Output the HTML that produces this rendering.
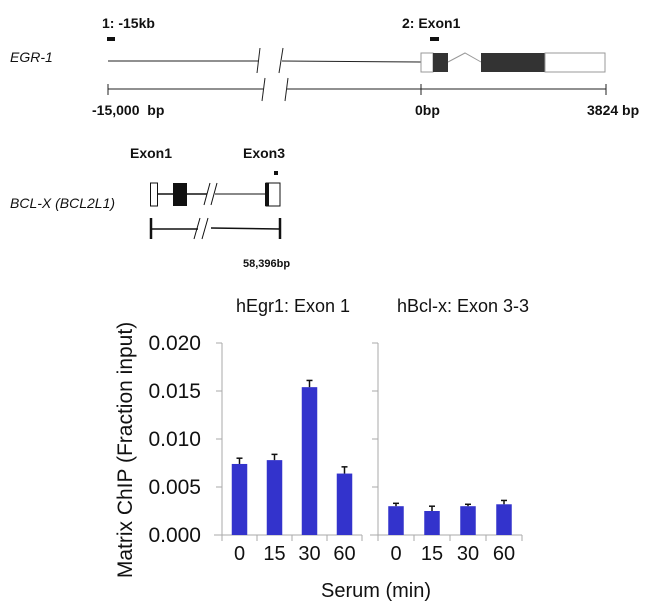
<!DOCTYPE html>
<html><head><meta charset="utf-8"><style>
html,body{margin:0;padding:0;background:#fff;}
svg{display:block;font-family:"Liberation Sans",sans-serif;}
</style></head><body>
<svg width="650" height="608" viewBox="0 0 650 608">
<g stroke="#222" fill="none">
  <text x="10" y="62" font-size="14" font-style="italic" fill="#111" stroke="none">EGR-1</text>
  <text x="102" y="28" font-size="14" font-weight="bold" fill="#111" stroke="none">1: -15kb</text>
  <rect x="107" y="37" width="8" height="4" fill="#111" stroke="none"/>
  <text x="402" y="28" font-size="14" font-weight="bold" fill="#111" stroke="none">2: Exon1</text>
  <rect x="430" y="37" width="9" height="4" fill="#111" stroke="none"/>
  <line x1="108" y1="61" x2="259" y2="61"/>
  <line x1="257" y1="73" x2="260" y2="48"/><line x1="279" y1="73" x2="283" y2="48"/>
  <line x1="282" y1="61" x2="421" y2="62"/>
  <rect x="421" y="53" width="12" height="19" fill="#fff" stroke="#999"/>
  <rect x="433" y="53" width="15" height="19" fill="#333" stroke="none"/>
  <polyline points="448,62 465,53 481,62" stroke="#999"/>
  <rect x="481" y="53" width="64" height="19" fill="#333" stroke="none"/>
  <rect x="545" y="53" width="60" height="19" fill="#fff" stroke="#999"/>
  <line x1="108" y1="89" x2="264" y2="89"/>
  <line x1="262" y1="101" x2="265" y2="78"/><line x1="285" y1="101" x2="288" y2="78"/>
  <line x1="287" y1="89" x2="606" y2="89"/>
  <line x1="108" y1="84" x2="108" y2="95"/><line x1="421" y1="84" x2="421" y2="95"/><line x1="606" y1="84" x2="606" y2="95"/>
  <text x="92" y="115" font-size="14" font-weight="bold" fill="#111" stroke="none" xml:space="preserve">-15,000  bp</text>
  <text x="415" y="115" font-size="14" font-weight="bold" fill="#111" stroke="none">0bp</text>
  <text x="587" y="115" font-size="14" font-weight="bold" fill="#111" stroke="none">3824 bp</text>
</g>
<g stroke="#111" fill="none">
  <text x="130" y="158" font-size="14" font-weight="bold" fill="#111" stroke="none">Exon1</text>
  <text x="243" y="158" font-size="14" font-weight="bold" fill="#111" stroke="none">Exon3</text>
  <rect x="274" y="171" width="4" height="4" fill="#111" stroke="none"/>
  <text x="10" y="208" font-size="14" font-style="italic" fill="#111" stroke="none">BCL-X (BCL2L1)</text>
  <line x1="157" y1="194" x2="207" y2="194" stroke-width="1.5"/>
  <line x1="204" y1="205" x2="210" y2="183"/><line x1="211" y1="205" x2="217" y2="183"/>
  <line x1="215" y1="194" x2="266" y2="194"/>
  <rect x="150.5" y="183" width="7" height="23" fill="#fff"/>
  <rect x="173" y="183" width="14" height="23" fill="#111" stroke="none"/>
  <rect x="266" y="183" width="14" height="23" fill="#fff"/>
  <rect x="265" y="183" width="4" height="23" fill="#111" stroke="none"/>
  <line x1="151" y1="229" x2="198" y2="229" stroke-width="1.5"/>
  <line x1="194" y1="239" x2="200" y2="218"/><line x1="202" y1="239" x2="208" y2="218"/>
  <line x1="211" y1="228" x2="280" y2="229" stroke-width="1.5"/>
  <line x1="151" y1="218" x2="151" y2="239" stroke-width="2.5"/><line x1="280" y1="218" x2="280" y2="239" stroke-width="2.5"/>
  <text x="243" y="267" font-size="11" font-weight="bold" fill="#111" stroke="none">58,396bp</text>
</g>
<g id="chart"></g>
</svg>
<script>
const categories = ["0","15","30","60"];
const egr1Values = [0.0074, 0.0078, 0.0154, 0.0064];
const egr1Errors = [0.0006, 0.0006, 0.0007, 0.0007];
const bclValues = [0.0030, 0.0025, 0.0030, 0.0032];
const bclErrors = [0.0003, 0.0005, 0.0002, 0.0004];
const yTicks = [0, 0.005, 0.010, 0.015, 0.020];
const yTickLabels = ["0.000","0.005","0.010","0.015","0.020"];
const panelTitles = ["hEgr1: Exon 1", "hBcl-x: Exon 3-3"];

const NS = "http://www.w3.org/2000/svg";
const g = document.getElementById("chart");
const y0 = 535, yTop = 343, yMax = 0.020;
const yScale = v => y0 - v / yMax * (y0 - yTop);
const panels = [{x0:222, w:140, vals:egr1Values, errs:egr1Errors},{x0:378, w:144, vals:bclValues, errs:bclErrors}];
function mk(tag, attrs, parent){const e=document.createElementNS(NS,tag);for(const k in attrs)e.setAttribute(k,attrs[k]);(parent||g).appendChild(e);return e;}
panels.forEach((p, pi) => {
  const band = p.w / categories.length;
  const xc = i => p.x0 + band * (i + 0.5);
  const axis = mk("line",{x1:p.x0,y1:yTop,x2:p.x0,y2:y0,stroke:"#aaa"});
  
  
  const xa = mk("line",{x1:p.x0-8,y1:y0,x2:p.x0+p.w,y2:y0,stroke:"#aaa"});
  
  
  yTicks.forEach((t, ti) => {
    mk("line",{x1:p.x0-6,y1:yScale(t),x2:p.x0,y2:yScale(t),stroke:"#aaa"});
    if (pi === 0) {
      const tl = mk("text",{x:201,y:yScale(t)+7,"text-anchor":"end","font-size":"21",fill:"#111"});
      tl.textContent = yTickLabels[ti];
      
      
    }
  });
  for (let i = 0; i <= categories.length; i++) mk("line",{x1:p.x0+band*i,y1:y0,x2:p.x0+band*i,y2:y0+6,stroke:"#aaa"});
  categories.forEach((c, i) => {
    const bw = 15.5, top = yScale(p.vals[i]);
    const bar = mk("rect",{x:xc(i)-bw/2,y:top,width:bw,height:y0-top,fill:"#3333cc"});
    
    
    const et = yScale(p.vals[i] + p.errs[i]);
    mk("line",{x1:xc(i),y1:top,x2:xc(i),y2:et,stroke:"#111","stroke-width":"1.5"});
    mk("line",{x1:xc(i)-3,y1:et,x2:xc(i)+3,y2:et,stroke:"#111","stroke-width":"1.5"});
    const xl = mk("text",{x:xc(i),y:560,"text-anchor":"middle","font-size":"20",fill:"#111"});
    xl.textContent = c;
    
    
  });
  const title = mk("text",{x:[293,463][pi],y:312,"text-anchor":"middle","font-size":"18",fill:"#111"});
  title.textContent = panelTitles[pi];
  
  
});
const xt = mk("text",{x:376,y:597,"text-anchor":"middle","font-size":"20",fill:"#111"});
xt.textContent = "Serum (min)";


const yt = mk("text",{x:0,y:0,"text-anchor":"middle","font-size":"21",fill:"#111",transform:"translate(132,450) rotate(-90)"});
yt.textContent = "Matrix ChIP (Fraction input)";


</script>
</body></html>
